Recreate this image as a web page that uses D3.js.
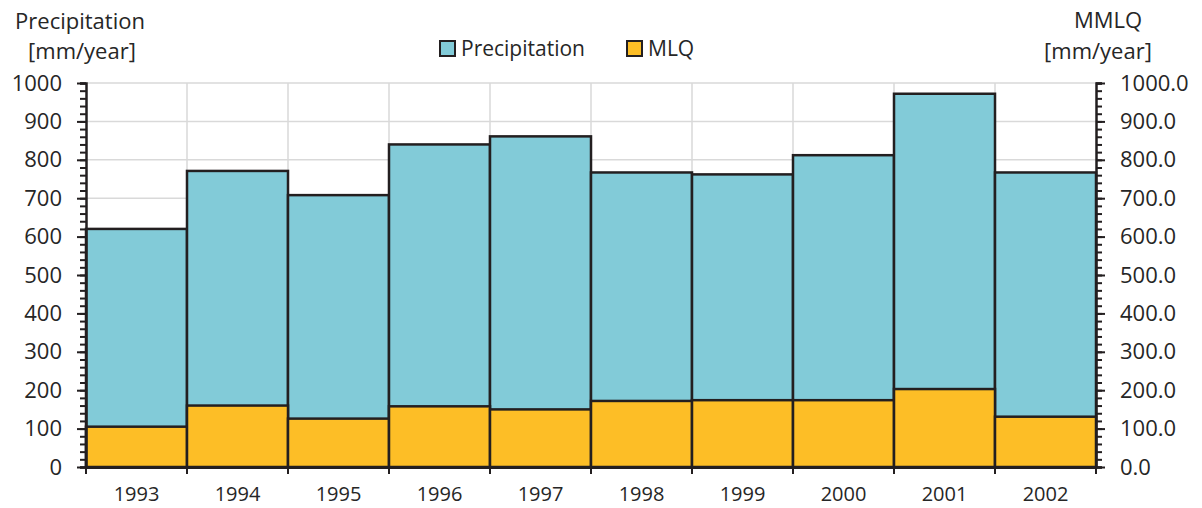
<!DOCTYPE html>
<html><head><meta charset="utf-8">
<script src="https://cdn.jsdelivr.net/npm/d3@7"></script>
<style>body{margin:0;background:#fff}svg{display:block}text{font-family:"Open Sans",sans-serif;fill:#262626}</style>
</head><body><svg id="c" width="1202" height="508"></svg>
<script>
const years = ["1993","1994","1995","1996","1997","1998","1999","2000","2001","2002"];
const precipitation = [620, 771, 708, 840, 861, 767, 762, 812, 972, 767];
const mlq = [105, 160, 126, 158, 150, 172, 174, 174, 203, 131];
const leftTicks = [0,100,200,300,400,500,600,700,800,900,1000];
const FF = '"Open Sans"';

const svg = d3.select("#c");
const L = 86, R = 1096, T = 83, B = 467;
const x = d3.scaleBand().domain(years).range([L, R]).padding(0);
const y = d3.scaleLinear().domain([0, 1000]).range([B, T]);
const y2 = d3.scaleLinear().domain([0, 1000]).range([B, T]);

// grid
const g = svg.append("g");
g.selectAll("line.h").data(leftTicks.slice(1)).join("line")
  .attr("x1", L).attr("x2", R).attr("y1", d => y(d)).attr("y2", d => y(d))
  .attr("stroke", "#d9d9d9").attr("stroke-width", 1.5);
g.selectAll("line.v").data(years.slice(1)).join("line")
  .attr("x1", d => x(d)).attr("x2", d => x(d)).attr("y1", T).attr("y2", B)
  .attr("stroke", "#d9d9d9").attr("stroke-width", 1.5);

// bars
const stroke = "#231f20";
svg.append("g").selectAll("rect").data(years).join("rect")
  .attr("x", d => x(d)).attr("width", x.bandwidth())
  .attr("y", (d,i) => y(precipitation[i])).attr("height", (d,i) => B - y(precipitation[i]))
  .attr("fill", "#82cbd8").attr("stroke", stroke).attr("stroke-width", 2.5);
svg.append("g").selectAll("rect").data(years).join("rect")
  .attr("x", d => x(d)).attr("width", x.bandwidth())
  .attr("y", (d,i) => y(mlq[i])).attr("height", (d,i) => B - y(mlq[i]))
  .attr("fill", "#fdbe26").attr("stroke", stroke).attr("stroke-width", 2.5);

// left axis minor + major
const minor = d3.range(0, 1001, 20);
const la = svg.append("g").attr("transform", `translate(${L},0)`);
la.call(d3.axisLeft(y).tickValues(minor).tickSize(6).tickFormat(""));
la.call(g2 => g2.selectAll(".tick line").attr("stroke", stroke).attr("stroke-width", 2));
la.append("g").call(d3.axisLeft(y).tickValues(leftTicks).tickSize(9).tickPadding(15).tickFormat(d3.format("d")))
  .call(a => { a.select(".domain").remove(); a.selectAll(".tick line").attr("stroke", stroke).attr("stroke-width", 2);
    a.selectAll("text").attr("font-size", 22).attr("fill", "#262626").style("font-family", FF); });
la.select(".domain").attr("stroke", stroke).attr("stroke-width", 2.5);

const ra = svg.append("g").attr("transform", `translate(${R},0)`);
ra.call(d3.axisRight(y2).tickValues(minor).tickSize(6).tickFormat(""));
ra.call(g2 => g2.selectAll(".tick line").attr("stroke", stroke).attr("stroke-width", 2));
ra.append("g").call(d3.axisRight(y2).tickValues(leftTicks).tickSize(9).tickPadding(15).tickFormat(d3.format(".1f")))
  .call(a => { a.select(".domain").remove(); a.selectAll(".tick line").attr("stroke", stroke).attr("stroke-width", 2);
    a.selectAll("text").attr("font-size", 22).attr("fill", "#262626").style("font-family", FF); });
ra.select(".domain").attr("stroke", stroke).attr("stroke-width", 2.5);

// bottom axis
const ba = svg.append("g").attr("transform", `translate(0,${B})`);
ba.call(d3.axisBottom(x).tickSize(0).tickPadding(20));
ba.select(".domain").attr("stroke", stroke).attr("stroke-width", 3);
ba.selectAll("text").attr("font-size", 20).attr("fill", "#262626").style("font-family", FF);
const bounds = years.map(d => x(d)).concat([R]);
ba.selectAll("line.bt").data(bounds).join("line").attr("class","bt")
  .attr("x1", d => d).attr("x2", d => d).attr("y1", 0).attr("y2", 7)
  .attr("stroke", stroke).attr("stroke-width", 2);

// titles
svg.append("text").attr("x", 80).attr("y", 29).attr("text-anchor", "middle").attr("font-size", 22).text("Precipitation");
svg.append("text").attr("x", 82).attr("y", 59).attr("text-anchor", "middle").attr("font-size", 22).text("[mm/year]");
svg.append("text").attr("x", 1108).attr("y", 28).attr("text-anchor", "middle").attr("font-size", 22).text("MMLQ");
svg.append("text").attr("x", 1098).attr("y", 59).attr("text-anchor", "middle").attr("font-size", 22).text("[mm/year]");

// legend
const leg = [{n:"Precipitation", c:"#82cbd8", x:440}, {n:"MLQ", c:"#fdbe26", x:627}];
const lg = svg.append("g").selectAll("g").data(leg).join("g").attr("transform", d => `translate(${d.x},41)`);
lg.append("rect").attr("width", 15).attr("height", 15).attr("fill", d => d.c).attr("stroke", stroke).attr("stroke-width", 2);
lg.append("text").attr("x", 21).attr("y", 15).attr("font-size", 21).text(d => d.n);
</script></body></html>
